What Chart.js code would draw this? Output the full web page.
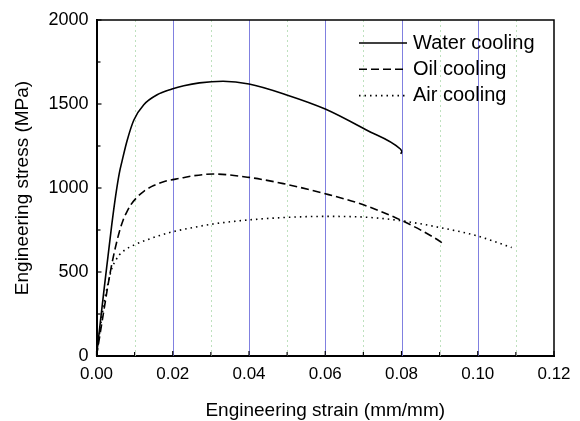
<!DOCTYPE html>
<html>
<head>
<meta charset="utf-8">
<script src="https://cdn.jsdelivr.net/npm/chart.js@4.4.0/dist/chart.umd.min.js"></script>
<style>
  html, body { margin: 0; padding: 0; background: #fff; }
  canvas { display: block; }
</style>
</head>
<body>
<canvas id="stressChart" width="580" height="421"></canvas>
<script>
// Series (strain in mm/mm, stress in MPa)
const waterStrain = [0, 0.0010, 0.0020, 0.0030, 0.0040, 0.0050, 0.0060, 0.0067, 0.0080, 0.0098, 0.0124, 0.0159, 0.0198, 0.0229, 0.0270, 0.0332, 0.0400, 0.0499, 0.0600, 0.0708, 0.0797, 0.0802, 0.0798];
const waterStress = [0, 200, 400, 590, 780, 950, 1090, 1160, 1280, 1405, 1496, 1555, 1589, 1609, 1626, 1635, 1619, 1554, 1470, 1345, 1232, 1218, 1203];

const oilStrain = [0, 0.0010, 0.0020, 0.0030, 0.0040, 0.0050, 0.0060, 0.0070, 0.0080, 0.0090, 0.0105, 0.0125, 0.0150, 0.0180, 0.0220, 0.0255, 0.0306, 0.0400, 0.0490, 0.0600, 0.0700, 0.0800, 0.0883, 0.0914];
const oilStress = [0, 140, 280, 420, 545, 650, 740, 810, 860, 900, 942, 982, 1015, 1040, 1058, 1073, 1083, 1063, 1026, 966, 900, 807, 708, 662];

const airStrain = [0, 0.0010, 0.0020, 0.0030, 0.0040, 0.0050, 0.0060, 0.0075, 0.0098, 0.0133, 0.0194, 0.0247, 0.0306, 0.0400, 0.0499, 0.0600, 0.0700, 0.0800, 0.0900, 0.0997, 0.1089];
const airStress = [0, 170, 320, 430, 520, 568, 602, 632, 660, 692, 736, 762, 786, 810, 825, 831, 827, 805, 765, 716, 646];

const seriesLabels = ['Water cooling', 'Oil cooling', 'Air cooling'];

const xTicks = { min: 0, max: 0.12, step: 0.01 };
const yTicks = { min: 0, max: 2000, step: 250 };

const FONT = '"Liberation Sans", Arial, sans-serif';

function toPoints(xs, ys) {
    return xs.map((x, i) => ({ x: x, y: ys[i] }));
}

function isMajorX(v) {
    return Math.round(v * 100) % 2 === 0;
}

// Vertical grid: solid blue at 0.02 steps, dotted green in between
const verticalGrid = {
    id: 'verticalGrid',
    beforeDatasetsDraw(chart) {
        const ctx = chart.ctx;
        const area = chart.chartArea;
        const xs = chart.scales.x;
        ctx.save();
        ctx.lineWidth = 1;
        xs.ticks.forEach(t => {
            const k = Math.round(t.value * 100);
            if (k === 0 || k === 12) return;
            const px = Math.round(xs.getPixelForValue(t.value)) + 0.5;
            if (isMajorX(t.value)) {
                ctx.strokeStyle = 'rgb(128,128,224)';
                ctx.setLineDash([]);
            } else {
                ctx.strokeStyle = 'rgb(190,225,190)';
                ctx.setLineDash([2, 3]);
            }
            ctx.beginPath();
            ctx.moveTo(px, area.top);
            ctx.lineTo(px, area.bottom);
            ctx.stroke();
        });
        ctx.restore();
    }
};

// Inside tick marks, top/right frame and the in-plot legend
const frameAndLegend = {
    id: 'frameAndLegend',
    afterDraw(chart) {
        const ctx = chart.ctx;
        const area = chart.chartArea;
        const xs = chart.scales.x;
        const ys = chart.scales.y;

        ctx.save();
        ctx.strokeStyle = '#000';
        ctx.lineWidth = 1.5;
        ctx.beginPath();
        ctx.moveTo(area.left, area.top);
        ctx.lineTo(area.right, area.top);
        ctx.lineTo(area.right, area.bottom);
        ctx.stroke();

        // x ticks pointing inward
        ctx.lineWidth = 1.2;
        xs.ticks.forEach(t => {
            const px = xs.getPixelForValue(t.value);
            ctx.beginPath();
            ctx.moveTo(px, area.bottom);
            ctx.lineTo(px, area.bottom - (isMajorX(t.value) ? 5 : 4));
            ctx.stroke();
        });
        // y ticks pointing inward
        ys.ticks.forEach(t => {
            const py = ys.getPixelForValue(t.value);
            const major = t.value % 500 === 0;
            ctx.beginPath();
            ctx.moveTo(area.left, py);
            ctx.lineTo(area.left + (major ? 5 : 4), py);
            ctx.stroke();
        });

        // legend
        const opts = chart.options.plugins.frameAndLegend;
        ctx.font = opts.fontSize + 'px ' + FONT;
        ctx.textBaseline = 'middle';
        ctx.fillStyle = '#000';
        chart.data.datasets.forEach((ds, i) => {
            const y = opts.top + i * opts.rowGap;
            ctx.setLineDash(ds.borderDash || []);
            ctx.lineWidth = ds.borderWidth;
            ctx.beginPath();
            ctx.moveTo(opts.lineStart, y);
            ctx.lineTo(opts.lineEnd, y);
            ctx.stroke();
            ctx.setLineDash([]);
            ctx.fillText(ds.label, opts.textStart, y);
        });
        ctx.restore();
    }
};

function makeDataset(label, xs, ys, dash) {
    return {
        label: label,
        data: toPoints(xs, ys),
        borderColor: '#000',
        borderWidth: 1.6,
        borderDash: dash,
        pointRadius: 0,
        cubicInterpolationMode: 'monotone',
        fill: false
    };
}

const chart = new Chart(document.getElementById('stressChart').getContext('2d'), {
    type: 'line',
    data: {
        datasets: [
            makeDataset(seriesLabels[0], waterStrain, waterStress, []),
            makeDataset(seriesLabels[1], oilStrain, oilStress, [8, 4]),
            makeDataset(seriesLabels[2], airStrain, airStress, [1.5, 4])
        ]
    },
    options: {
        responsive: false,
        devicePixelRatio: 1,
        animation: false,
        layout: { padding: { left: 0, top: 20, right: 26, bottom: 0 } },
        plugins: {
            legend: { display: false },
            tooltip: { enabled: false },
            frameAndLegend: {
                fontSize: 20,
                top: 43,
                rowGap: 26.3,
                lineStart: 359,
                lineEnd: 407,
                textStart: 413
            }
        },
        scales: {
            x: {
                type: 'linear',
                min: xTicks.min,
                max: xTicks.max,
                afterFit: (scale) => { scale.height = 65; },
                ticks: {
                    stepSize: xTicks.step,
                    color: '#000',
                    font: { family: FONT, size: 17 },
                    padding: 8,
                    maxRotation: 0,
                    autoSkip: false,
                    callback: (value) => isMajorX(value) ? value.toFixed(2) : ''
                },
                grid: {
                    drawTicks: false,
                    drawOnChartArea: false
                },
                border: {
                    display: true,
                    color: '#000',
                    width: 2
                },
                title: {
                    display: true,
                    text: 'Engineering strain (mm/mm)',
                    color: '#000',
                    font: { family: FONT, size: 19, lineHeight: 1.1 },
                    padding: { top: 0, bottom: 0 }
                }
            },
            y: {
                min: yTicks.min,
                max: yTicks.max,
                afterFit: (scale) => { scale.width = 96.5; },
                ticks: {
                    stepSize: yTicks.step,
                    color: '#000',
                    font: { family: FONT, size: 18 },
                    padding: 8,
                    callback: (value) => value % 500 === 0 ? String(value) : ''
                },
                grid: {
                    drawTicks: false,
                    drawOnChartArea: false
                },
                border: {
                    display: true,
                    color: '#000',
                    width: 2
                },
                title: {
                    display: true,
                    text: 'Engineering stress (MPa)',
                    color: '#000',
                    font: { family: FONT, size: 19, lineHeight: 1.2 },
                    padding: { top: 11, bottom: 0 }
                }
            }
        }
    },
    plugins: [verticalGrid, frameAndLegend]
});
</script>
</body>
</html>
